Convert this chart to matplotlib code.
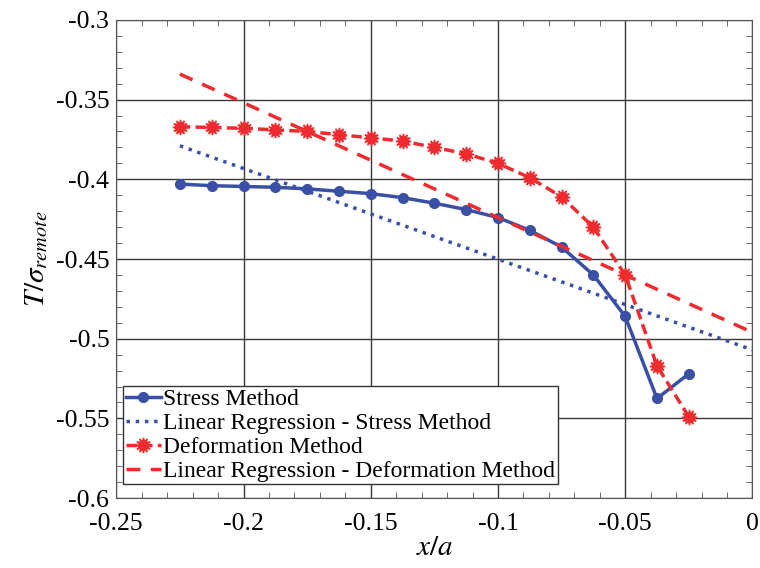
import matplotlib.pyplot as plt
from matplotlib.ticker import MultipleLocator

plt.rcParams['font.family'] = ['Liberation Serif', 'DejaVu Serif']
plt.rcParams['mathtext.fontset'] = 'stix'

# crack-tip distance and T-stress results
x_pos = [-0.225, -0.2125, -0.2, -0.1875, -0.175, -0.1625, -0.15, -0.1375, -0.125,
         -0.1125, -0.1, -0.0875, -0.075, -0.0625, -0.05, -0.0375, -0.025]
stress = [-0.403, -0.404, -0.4045, -0.405, -0.406, -0.4075, -0.409, -0.4115, -0.415,
          -0.419, -0.424, -0.432, -0.4425, -0.460, -0.486, -0.5375, -0.522]
deform = [-0.367, -0.3675, -0.368, -0.369, -0.370, -0.372, -0.374, -0.376, -0.380,
          -0.384, -0.390, -0.399, -0.411, -0.430, -0.460, -0.517, -0.549]

# fitted lines, end points
fit_x = [-0.225, 0.0]
fit_stress = [-0.379, -0.507]
fit_deform = [-0.334, -0.496]

xticks = [-0.25, -0.2, -0.15, -0.1, -0.05, 0]
xlabels = ['-0.25', '-0.2', '-0.15', '-0.1', '-0.05', '0']
yticks = [-0.6, -0.55, -0.5, -0.45, -0.4, -0.35, -0.3]
ylabels = ['-0.6', '-0.55', '-0.5', '-0.45', '-0.4', '-0.35', '-0.3']

blue = '#3a50a5'
red = '#ee2b2e'

fig = plt.figure(figsize=(7.6, 5.68), dpi=100)
ax = fig.add_axes([0.153, 0.123, 0.837, 0.842])

ax.plot(x_pos, stress, '-o', color=blue, lw=2.5, ms=7, label='Stress Method')
ax.plot(fit_x, fit_stress, ':', color=blue, lw=2.5, label='Linear Regression - Stress Method')
ax.plot(x_pos, deform, '--', color=red, lw=2.5, marker=(12, 1, 0), ms=11,
        dashes=(3, 1.5), label='Deformation Method')
ax.plot(fit_x, fit_deform, '--', color=red, lw=2.5, dashes=(4, 3),
        label='Linear Regression - Deformation Method')

ax.set_xlim(-0.25, 0)
ax.set_ylim(-0.6, -0.3)
ax.set_xticks(xticks, xlabels)
ax.set_yticks(yticks, ylabels)
ax.xaxis.set_minor_locator(MultipleLocator(0.01))
ax.yaxis.set_minor_locator(MultipleLocator(0.01))
ax.tick_params(which='both', direction='in', top=True, right=True, labelsize=18.5)
ax.tick_params(which='major', length=0)
ax.tick_params(axis='x', which='major', pad=11)
ax.tick_params(axis='y', which='major', pad=5)
ax.tick_params(which='minor', length=4, color='#555555')
ax.grid(True, which='major', color='#3a3a3a', lw=1)
for s in ax.spines.values():
    s.set_color('#555555')

ax.set_xlabel('$x/a$', fontsize=21, labelpad=0)
ax.set_ylabel(r'$T/\sigma_{remote}$', fontsize=21, labelpad=4)

leg = ax.legend(loc='lower left', bbox_to_anchor=(0.011, 0.029), fontsize=17,
                handlelength=1.5, handletextpad=0.1, borderpad=0.1, labelspacing=0.1,
                borderaxespad=0, fancybox=False, framealpha=1)
leg.get_frame().set_edgecolor('#333333')

fig.savefig('out.png')
